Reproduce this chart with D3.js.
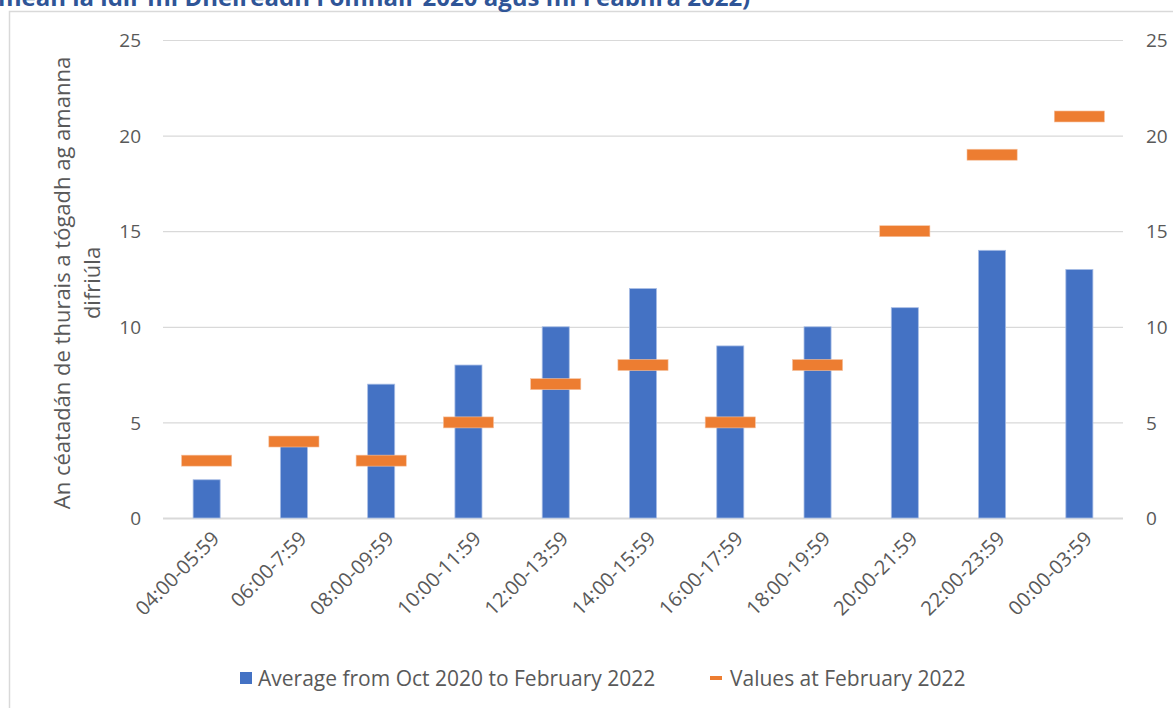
<!DOCTYPE html>
<html><head><meta charset="utf-8">
<script src="https://cdn.jsdelivr.net/npm/d3@7"></script>
<style>body{margin:0;background:#fff;}svg{display:block;}</style>
</head><body>
<svg id="c" width="1173" height="708"></svg>
<script>
const categories = ["04:00-05:59","06:00-7:59","08:00-09:59","10:00-11:59","12:00-13:59","14:00-15:59","16:00-17:59","18:00-19:59","20:00-21:59","22:00-23:59","00:00-03:59"];
const averageValues = [2,4,7,8,10,12,9,10,11,14,13];
const februaryValues = [3,4,3,5,7,8,5,8,15,19,21];
const yTicks = [0,5,10,15,20,25];
const titleText = "meán lá idir mí Dheireadh Fómhair 2020 agus mí Feabhra 2022)";
const yTitleLines = ["An céatadán de thurais a tógadh ag amanna","difriúla"];
const legendLabels = ["Average from Oct 2020 to February 2022","Values at February 2022"];

const svg = d3.select("#c");
const font = "'Open Sans', sans-serif";
const txt = "#595959";

// chart frame
svg.append("rect").attr("x",9.5).attr("y",11.5).attr("width",1200).attr("height",800)
  .attr("fill","none").attr("stroke","#d9d9d9").attr("stroke-width",1.5);

// title (cut off at top as in the source)
svg.append("text").attr("x",-2).attr("y",6).attr("font-family",font).attr("font-weight",700)
  .attr("font-size",24).attr("fill","#2F5597").text(titleText);

const x = d3.scaleBand().domain(categories).range([163,1123]);
const y = d3.scaleLinear().domain([0,25]).range([518,40]);

// gridlines
svg.append("g").selectAll("line").data(yTicks).join("line")
  .attr("x1",163).attr("x2",1123).attr("y1",d=>y(d)+0.5).attr("y2",d=>y(d)+0.5)
  .attr("stroke","#d9d9d9").attr("stroke-width",d=>d===0?2:1.2);

// left axis
const yl = svg.append("g").attr("transform","translate(141,0)")
  .call(d3.axisLeft(y).tickValues(yTicks).tickSize(0).tickPadding(0));
yl.select(".domain").remove();
yl.selectAll("text").attr("font-family",font).attr("font-size",19).attr("fill",txt).attr("dy","0.35em");

// right axis
const yr = svg.append("g").attr("transform","translate(1146,0)")
  .call(d3.axisRight(y).tickValues(yTicks).tickSize(0).tickPadding(0));
yr.select(".domain").remove();
yr.selectAll("text").attr("font-family",font).attr("font-size",19).attr("fill",txt).attr("dy","0.35em");

// bars
const bw = x.bandwidth()*0.31;
svg.append("g").selectAll("rect").data(categories).join("rect")
  .attr("x",(d)=>x(d)+x.bandwidth()/2-bw/2)
  .attr("y",(d,i)=>y(averageValues[i]))
  .attr("width",bw)
  .attr("height",(d,i)=>y(0)-y(averageValues[i]))
  .attr("fill","#4472C4").attr("stroke","#a8bde5").attr("stroke-width",0.8);

// markers
const mw = x.bandwidth()*0.575, mh = 11;
svg.append("g").selectAll("rect").data(categories).join("rect")
  .attr("x",(d)=>x(d)+x.bandwidth()/2-mw/2)
  .attr("y",(d,i)=>y(februaryValues[i])-mh/2)
  .attr("width",mw).attr("height",mh)
  .attr("fill","#ED7D31").attr("stroke","#f6c3a2").attr("stroke-width",0.6);

// x labels
const xl = svg.append("g").attr("transform","translate(0,518)")
  .call(d3.axisBottom(x).tickSize(0).tickPadding(0));
xl.select(".domain").remove();
xl.selectAll("text").attr("font-family",font).attr("font-size",20).attr("fill",txt)
  .attr("text-anchor","end")
  .attr("transform","translate(9,17) rotate(-45)").attr("dy","0.35em");

// y title
const yt = svg.append("text").attr("transform","translate(70,283) rotate(-90)")
  .attr("font-family",font).attr("font-size",22).attr("fill",txt).attr("text-anchor","middle");
yTitleLines.forEach((l,i)=>yt.append("tspan").attr("x",0).attr("dy",i===0?0:30).text(l));

// legend
const lg = svg.append("g");
lg.append("rect").attr("x",240).attr("y",672).attr("width",12).attr("height",12).attr("fill","#4472C4");
lg.append("text").attr("x",258).attr("y",686).attr("font-family",font).attr("font-size",21).attr("fill",txt).text(legendLabels[0]);
lg.append("rect").attr("x",710).attr("y",676).attr("width",12).attr("height",4).attr("fill","#ED7D31");
lg.append("text").attr("x",730).attr("y",686).attr("font-family",font).attr("font-size",21).attr("fill",txt).text(legendLabels[1]);
</script>
</body></html>
